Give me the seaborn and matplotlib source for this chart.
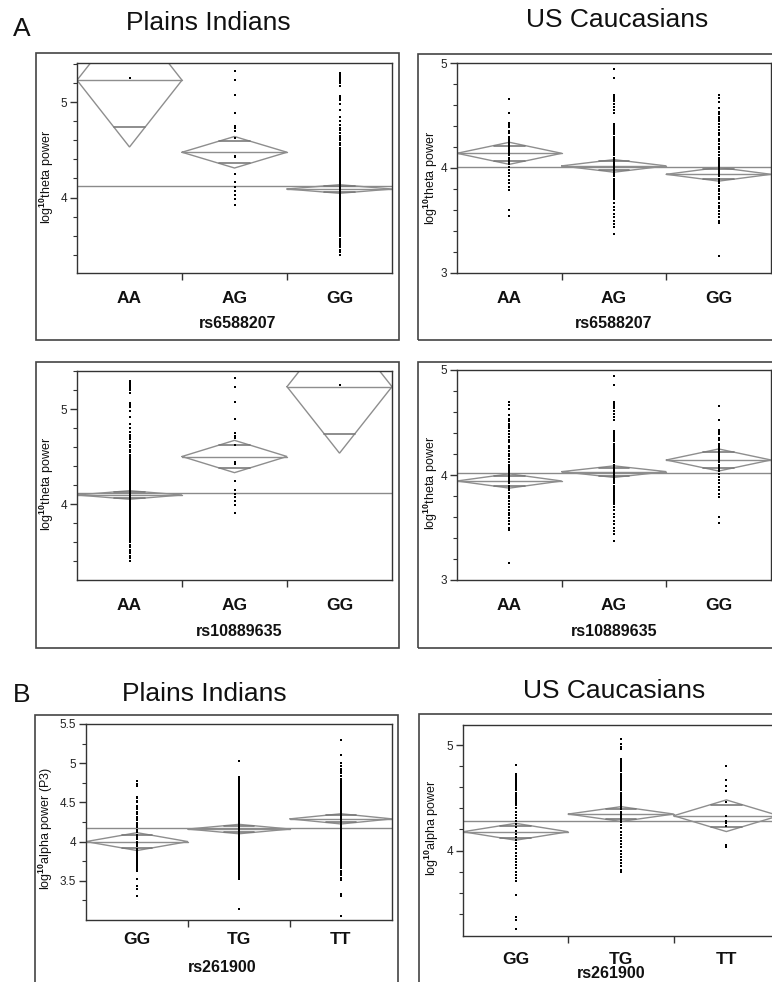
import numpy as np
import pandas as pd
import matplotlib
matplotlib.use("Agg")
import matplotlib.pyplot as plt
import seaborn as sns
from matplotlib.patches import Rectangle

# ---------------- data ----------------
geno_rs6588207 = ["AA", "AG", "GG"]
geno_rs10889635 = ["AA", "AG", "GG"]
geno_rs261900 = ["GG", "TG", "TT"]

# A, Plains Indians, rs6588207 (log10 theta power)
pi_rs658_AA = [5.25]
pi_rs658_AG = [5.33, 5.23, 5.07, 4.89, 4.75, 4.73, 4.70, 4.62, 4.44, 4.42, 4.25,
               4.16, 4.11, 4.07, 4.03, 3.99, 3.92]
pi_rs658_GG = [5.30, 5.29, 5.27, 5.26, 5.24, 5.22, 5.20, 5.17, 5.06, 5.04, 5.02,
               4.98, 4.92, 4.84, 4.80, 4.76, 4.73, 4.71, 4.68, 4.65, 4.62, 4.60,
               4.57, 4.55, 4.52, 4.50, 4.48, 4.46, 4.44, 4.42, 4.40, 4.38, 4.36,
               4.34, 4.32, 4.30, 4.28, 4.26, 4.24, 4.22, 4.20, 4.18, 4.16, 4.14,
               4.12, 4.10, 4.08, 4.06, 4.04, 4.02, 4.00, 3.98, 3.96, 3.94, 3.92,
               3.90, 3.88, 3.86, 3.84, 3.82, 3.80, 3.78, 3.76, 3.74, 3.72, 3.70,
               3.68, 3.66, 3.64, 3.62, 3.60, 3.57, 3.55, 3.52, 3.50, 3.48, 3.45,
               3.43, 3.40]
pi_rs658_mean = [5.23, 4.475, 4.09]
pi_rs658_ci = [0.70, 0.165, 0.045]
pi_rs658_grand = 4.117

# A, Plains Indians, rs10889635
pi_rs108_AA = [5.30, 5.29, 5.27, 5.26, 5.24, 5.22, 5.20, 5.17, 5.06, 5.04, 5.02,
               4.98, 4.92, 4.84, 4.80, 4.76, 4.73, 4.71, 4.68, 4.65, 4.62, 4.60,
               4.57, 4.55, 4.52, 4.50, 4.48, 4.46, 4.44, 4.42, 4.40, 4.38, 4.36,
               4.34, 4.32, 4.30, 4.28, 4.26, 4.24, 4.22, 4.20, 4.18, 4.16, 4.14,
               4.12, 4.10, 4.08, 4.06, 4.04, 4.02, 4.00, 3.98, 3.96, 3.94, 3.92,
               3.90, 3.88, 3.86, 3.84, 3.82, 3.80, 3.78, 3.76, 3.74, 3.72, 3.70,
               3.68, 3.66, 3.64, 3.62, 3.60, 3.57, 3.55, 3.52, 3.50, 3.48, 3.45,
               3.43, 3.40]
pi_rs108_AG = [5.33, 5.23, 5.07, 4.90, 4.75, 4.72, 4.70, 4.62, 4.44, 4.42, 4.24,
               4.15, 4.11, 4.07, 4.03, 3.99, 3.91]
pi_rs108_GG = [5.25]
pi_rs108_mean = [4.095, 4.50, 5.235]
pi_rs108_ci = [0.045, 0.17, 0.70]
pi_rs108_grand = 4.119

# A, US Caucasians, rs6588207
ca_rs658_AA = [4.66, 4.52, 4.43, 4.41, 4.39, 4.35, 4.33, 4.30, 4.28, 4.26, 4.24,
               4.22, 4.20, 4.18, 4.16, 4.14, 4.12, 4.10, 4.08, 4.06, 4.04, 4.01,
               3.98, 3.95, 3.92, 3.89, 3.86, 3.82, 3.79, 3.60, 3.54]
ca_rs658_AG = [4.94, 4.86, 4.70, 4.68, 4.66, 4.64, 4.61, 4.58, 4.55, 4.52, 4.42,
               4.40, 4.38, 4.36, 4.34, 4.32, 4.30, 4.28, 4.26, 4.24, 4.22, 4.20,
               4.18, 4.16, 4.14, 4.12, 4.10, 4.08, 4.06, 4.04, 4.02, 4.00, 3.98,
               3.96, 3.94, 3.92, 3.90, 3.88, 3.86, 3.84, 3.82, 3.80, 3.78, 3.76,
               3.74, 3.72, 3.70, 3.67, 3.63, 3.60, 3.56, 3.53, 3.50, 3.47, 3.44,
               3.37]
ca_rs658_GG = [4.70, 4.67, 4.63, 4.57, 4.53, 4.51, 4.49, 4.47, 4.45, 4.42, 4.39,
               4.36, 4.33, 4.31, 4.28, 4.26, 4.23, 4.20, 4.18, 4.15, 4.12, 4.10,
               4.08, 4.06, 4.04, 4.02, 4.00, 3.98, 3.96, 3.94, 3.92, 3.90, 3.88,
               3.86, 3.83, 3.80, 3.78, 3.75, 3.72, 3.70, 3.67, 3.64, 3.62, 3.59,
               3.56, 3.53, 3.50, 3.48, 3.16]
ca_rs658_mean = [4.14, 4.02, 3.94]
ca_rs658_ci = [0.105, 0.06, 0.065]
ca_rs658_grand = 4.01

# A, US Caucasians, rs10889635
ca_rs108_AA = [4.70, 4.67, 4.63, 4.57, 4.53, 4.51, 4.49, 4.47, 4.45, 4.42, 4.39,
               4.36, 4.33, 4.31, 4.28, 4.26, 4.23, 4.20, 4.18, 4.15, 4.12, 4.10,
               4.08, 4.06, 4.04, 4.02, 4.00, 3.98, 3.96, 3.94, 3.92, 3.90, 3.88,
               3.86, 3.83, 3.80, 3.78, 3.75, 3.72, 3.70, 3.67, 3.64, 3.62, 3.59,
               3.56, 3.53, 3.50, 3.48, 3.16]
ca_rs108_AG = [4.94, 4.86, 4.70, 4.68, 4.66, 4.64, 4.61, 4.58, 4.55, 4.52, 4.42,
               4.40, 4.38, 4.36, 4.34, 4.32, 4.30, 4.28, 4.26, 4.24, 4.22, 4.20,
               4.18, 4.16, 4.14, 4.12, 4.10, 4.08, 4.06, 4.04, 4.02, 4.00, 3.98,
               3.96, 3.94, 3.92, 3.90, 3.88, 3.86, 3.84, 3.82, 3.80, 3.78, 3.76,
               3.74, 3.72, 3.70, 3.67, 3.63, 3.60, 3.56, 3.53, 3.50, 3.47, 3.44,
               3.37]
ca_rs108_GG = [4.66, 4.52, 4.43, 4.41, 4.39, 4.35, 4.33, 4.30, 4.28, 4.26, 4.24,
               4.22, 4.20, 4.18, 4.16, 4.14, 4.12, 4.10, 4.08, 4.06, 4.04, 4.01,
               3.98, 3.95, 3.92, 3.89, 3.86, 3.82, 3.79, 3.60, 3.54]
ca_rs108_mean = [3.943, 4.032, 4.143]
ca_rs108_ci = [0.068, 0.055, 0.105]
ca_rs108_grand = 4.022

# B, Plains Indians, rs261900 (log10 alpha power P3)
pi_rs261_GG = [4.77, 4.74, 4.71, 4.57, 4.55, 4.52, 4.50, 4.46, 4.44, 4.41, 4.38,
               4.35, 4.32, 4.30, 4.27, 4.24, 4.21, 4.18, 4.15, 4.12, 4.09, 4.06,
               4.03, 4.00, 3.97, 3.94, 3.91, 3.88, 3.85, 3.83, 3.81, 3.79, 3.77,
               3.75, 3.73, 3.71, 3.69, 3.67, 3.65, 3.62, 3.52, 3.44, 3.40, 3.30]
pi_rs261_TG = [5.03, 4.83, 4.81, 4.79, 4.77, 4.75, 4.73, 4.71, 4.69, 4.67, 4.65,
               4.63, 4.61, 4.59, 4.57, 4.55, 4.53, 4.51, 4.49, 4.47, 4.45, 4.43,
               4.41, 4.39, 4.37, 4.35, 4.33, 4.31, 4.29, 4.27, 4.25, 4.23, 4.21,
               4.19, 4.17, 4.15, 4.13, 4.11, 4.09, 4.07, 4.05, 4.03, 4.01, 3.99,
               3.97, 3.95, 3.93, 3.91, 3.89, 3.87, 3.85, 3.83, 3.81, 3.79, 3.77,
               3.75, 3.73, 3.71, 3.69, 3.67, 3.65, 3.63, 3.61, 3.59, 3.57, 3.55,
               3.52, 3.14]
pi_rs261_TT = [5.30, 5.10, 5.00, 4.97, 4.93, 4.90, 4.87, 4.84, 4.80, 4.78, 4.76,
               4.74, 4.72, 4.70, 4.68, 4.66, 4.64, 4.62, 4.60, 4.58, 4.56, 4.54,
               4.52, 4.50, 4.48, 4.46, 4.44, 4.42, 4.40, 4.38, 4.36, 4.34, 4.32,
               4.30, 4.28, 4.26, 4.24, 4.22, 4.20, 4.18, 4.16, 4.14, 4.12, 4.10,
               4.08, 4.06, 4.04, 4.02, 4.00, 3.98, 3.96, 3.94, 3.92, 3.90, 3.88,
               3.86, 3.84, 3.82, 3.80, 3.78, 3.76, 3.74, 3.72, 3.70, 3.68, 3.66,
               3.63, 3.60, 3.57, 3.54, 3.51, 3.33, 3.30, 3.05]
pi_rs261_mean = [4.00, 4.16, 4.29]
pi_rs261_ci = [0.114, 0.06, 0.065]
pi_rs261_grand = 4.178

# B, US Caucasians, rs261900 (log10 alpha power)
ca_rs261_GG = [4.81, 4.73, 4.71, 4.69, 4.67, 4.65, 4.63, 4.61, 4.59, 4.57, 4.55,
               4.53, 4.51, 4.49, 4.47, 4.45, 4.43, 4.40, 4.37, 4.34, 4.31, 4.28,
               4.25, 4.22, 4.19, 4.16, 4.13, 4.10, 4.07, 4.04, 4.01, 3.98, 3.95,
               3.92, 3.89, 3.86, 3.83, 3.80, 3.77, 3.74, 3.71, 3.58, 3.37, 3.34,
               3.26]
ca_rs261_TG = [5.06, 5.01, 4.98, 4.96, 4.87, 4.85, 4.83, 4.81, 4.79, 4.77, 4.75,
               4.73, 4.71, 4.69, 4.67, 4.65, 4.63, 4.61, 4.59, 4.57, 4.55, 4.53,
               4.51, 4.49, 4.47, 4.45, 4.43, 4.41, 4.39, 4.37, 4.35, 4.33, 4.31,
               4.29, 4.27, 4.24, 4.21, 4.18, 4.15, 4.12, 4.09, 4.06, 4.03, 4.00,
               3.97, 3.94, 3.91, 3.88, 3.85, 3.82, 3.80]
ca_rs261_TT = [4.80, 4.67, 4.61, 4.56, 4.46, 4.33, 4.28, 4.26, 4.23, 4.05, 4.03]
ca_rs261_mean = [4.178, 4.346, 4.33]
ca_rs261_ci = [0.08, 0.07, 0.15]
ca_rs261_grand = 4.28

# ---------------- style ----------------
sns.set_theme(style="white")
plt.rcParams["font.family"] = ["Liberation Sans", "DejaVu Sans"]
plt.rcParams["mathtext.fontset"] = "custom"
plt.rcParams["mathtext.rm"] = "Liberation Sans"
plt.rcParams["mathtext.it"] = "Liberation Sans:italic"
plt.rcParams["mathtext.bf"] = "Liberation Sans:bold"

W, H = 772, 982
fig = plt.figure(figsize=(W / 100, H / 100), dpi=100)
fig.patch.set_facecolor("white")

DIAM = "#8e8e8e"
SPINE = "#333333"


def fx(x):
    return x / W


def fy(y):
    return 1 - y / H


def box(x0, y0, x1, y1):
    fig.add_artist(Rectangle((fx(x0), fy(y1)), (x1 - x0) / W, (y1 - y0) / H,
                             transform=fig.transFigure, fill=False,
                             lw=1.2, ec="#444444"))


def panel(rect, outer, cats, groups, means, cis, grand, ylim, majors, major_lbls,
          minors, ylabel, ylab_xy, xlabel, xlab_xy, xpad):
    box(*outer)
    x0, y0, x1, y1 = rect
    ax = fig.add_axes([fx(x0), fy(y1), (x1 - x0) / W, (y1 - y0) / H])
    df = pd.DataFrame({
        "genotype": np.repeat(cats, [len(g) for g in groups]),
        "value": np.concatenate([np.asarray(g, float) for g in groups]),
    })
    sns.stripplot(data=df, x="genotype", y="value", order=cats, jitter=False,
                  color="black", marker="s", size=1.7, linewidth=0, ax=ax,
                  zorder=4)
    half = 0.5 * (1 - 1 / np.sqrt(2))
    for i, (m, h) in enumerate(zip(means, cis)):
        ax.plot([i - 0.5, i, i + 0.5, i, i - 0.5], [m, m + h, m, m - h, m],
                color=DIAM, lw=1.0, zorder=2, solid_joinstyle="miter")
        ax.plot([i - 0.5, i + 0.5], [m, m], color=DIAM, lw=1.0, zorder=2)
        d = h / np.sqrt(2)
        for s in (1, -1):
            ax.plot([i - half, i + half], [m + s * d] * 2, color="#7a7a7a",
                    lw=1.2, zorder=2)
    ax.axhline(grand, color="#8a8a8a", lw=1.0, zorder=1)
    ax.set_xlim(-0.5, 2.5)
    ax.set_ylim(*ylim)
    ax.set_xlabel("")
    ax.set_ylabel("")
    ax.set_xticks([0, 1, 2])
    ax.set_xticklabels(cats, fontsize=12.5, fontweight="bold", color="#111111")
    ax.set_xticks([0.5, 1.5], minor=True)
    ax.tick_params(axis="x", which="major", length=0, pad=xpad)
    ax.tick_params(axis="x", which="minor", bottom=True, length=5, width=1.0,
                   direction="out", color=SPINE)
    ax.set_yticks(majors)
    ax.set_yticklabels(major_lbls, fontsize=8.5, color="#222222")
    ax.set_yticks(minors, minor=True)
    ax.tick_params(axis="y", which="major", left=True, length=5, width=1.0,
                   direction="out", color=SPINE, pad=2)
    ax.tick_params(axis="y", which="minor", left=True, length=3, width=0.8,
                   direction="out", color=SPINE)
    for sp in ax.spines.values():
        sp.set_visible(True)
        sp.set_color(SPINE)
        sp.set_linewidth(1.0)
    ax.set_facecolor("white")
    fig.text(fx(ylab_xy[0]), fy(ylab_xy[1]), ylabel, rotation=90,
             ha="center", va="center", fontsize=9, color="#111111")
    fig.text(fx(xlab_xy[0]), fy(xlab_xy[1]), xlabel, ha="center", va="center",
             fontsize=11.5, fontweight="bold", color="#111111")
    return ax


theta_lbl = r"log$^{\mathbf{10}}$theta power"
theta_pi_minor = [3.4, 3.6, 3.8, 4.2, 4.4, 4.6, 4.8, 5.2, 5.4]
theta_ca_minor = [3.2, 3.4, 3.6, 3.8, 4.2, 4.4, 4.6, 4.8]

panel((77, 63, 392, 273), (36, 53, 399, 340), geno_rs6588207,
      [pi_rs658_AA, pi_rs658_AG, pi_rs658_GG], pi_rs658_mean, pi_rs658_ci,
      pi_rs658_grand, (3.21, 5.41), [4, 5], ["4", "5"], theta_pi_minor,
      theta_lbl, (47, 177), "rs6588207", (238, 323), 13)

panel((457, 63, 771, 273), (418, 54, 800, 340), geno_rs6588207,
      [ca_rs658_AA, ca_rs658_AG, ca_rs658_GG], ca_rs658_mean, ca_rs658_ci,
      ca_rs658_grand, (3.0, 5.0), [3, 4, 5], ["3", "4", "5"], theta_ca_minor,
      theta_lbl, (431, 178), "rs6588207", (614, 323), 13)

panel((77, 371, 392, 580), (36, 362, 399, 648), geno_rs10889635,
      [pi_rs108_AA, pi_rs108_AG, pi_rs108_GG], pi_rs108_mean, pi_rs108_ci,
      pi_rs108_grand, (3.2, 5.4), [4, 5], ["4", "5"], theta_pi_minor,
      theta_lbl, (47, 484), "rs10889635", (239, 632), 13)

panel((457, 370, 771, 580), (418, 362, 800, 648), geno_rs10889635,
      [ca_rs108_AA, ca_rs108_AG, ca_rs108_GG], ca_rs108_mean, ca_rs108_ci,
      ca_rs108_grand, (3.0, 5.0), [3, 4, 5], ["3", "4", "5"], theta_ca_minor,
      theta_lbl, (431, 483), "rs10889635", (614, 632), 13)

panel((86, 724, 392, 920), (35, 715, 398, 1000), geno_rs261900,
      [pi_rs261_GG, pi_rs261_TG, pi_rs261_TT], pi_rs261_mean, pi_rs261_ci,
      pi_rs261_grand, (3.0, 5.5), [3.5, 4, 4.5, 5, 5.5],
      ["3.5", "4", "4.5", "5", "5.5"], [3.25, 3.75, 4.25, 4.75, 5.25],
      r"log$^{\mathbf{10}}$alpha power (P3)", (46, 828), "rs261900",
      (222, 968), 9)

panel((463, 725, 779, 936), (419, 714, 800, 1000), geno_rs261900,
      [ca_rs261_GG, ca_rs261_TG, ca_rs261_TT], ca_rs261_mean, ca_rs261_ci,
      ca_rs261_grand, (3.19, 5.19), [4, 5], ["4", "5"],
      [3.4, 3.6, 3.8, 4.2, 4.4, 4.6, 4.8],
      r"log$^{\mathbf{10}}$alpha power", (432, 828), "rs261900",
      (611, 973), 11.5)

# headings
fig.text(fx(22), fy(29), "A", ha="center", va="center", fontsize=19, color="#111111")
fig.text(fx(208), fy(23), "Plains Indians", ha="center", va="center", fontsize=19,
         color="#111111")
fig.text(fx(617), fy(20), "US Caucasians", ha="center", va="center", fontsize=19,
         color="#111111")
fig.text(fx(22), fy(695), "B", ha="center", va="center", fontsize=19, color="#111111")
fig.text(fx(204), fy(694), "Plains Indians", ha="center", va="center", fontsize=19,
         color="#111111")
fig.text(fx(614), fy(691), "US Caucasians", ha="center", va="center", fontsize=19,
         color="#111111")

fig.savefig("out.png", dpi=100, facecolor="white")
